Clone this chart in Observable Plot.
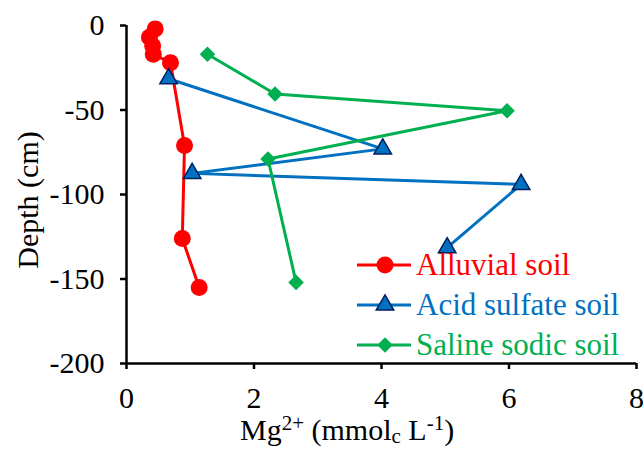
<!DOCTYPE html>
<html>
<head>
<meta charset="utf-8">
<script src="https://cdn.jsdelivr.net/npm/d3@7"></script>
<script src="https://cdn.jsdelivr.net/npm/@observablehq/plot@0.6"></script>
<style>
  html, body { margin: 0; padding: 0; background: #fff; }
  #wrap { position: relative; width: 643px; height: 450px; font-family: "Liberation Serif", "Times New Roman", serif; }
  #xtitle { position: absolute; left: 240px; top: 415px; font-size: 30px; color: #000; line-height: 1; white-space: nowrap; }
  #xtitle sup, #xtitle sub { font-size: 21px; vertical-align: baseline; position: relative; line-height: 1; }
  #xtitle sup { top: -0.5em; }
  #xtitle sub { top: 0.15em; }
  #ytitle { position: absolute; left: 28px; top: 200px; transform: translate(-50%, -50%) rotate(-90deg); font-size: 30px; white-space: nowrap; line-height: 1; }
  #legend { position: absolute; left: 0; top: 0; }
</style>
</head>
<body>
<div id="wrap"></div>
<script>
// Series data (Mg2+ in mmolc/L, depth in cm)
const alluvialX = [0.45, 0.36, 0.41, 0.42, 0.69, 0.91, 0.875, 1.14];
const alluvialY = [-2, -7, -12, -17, -22, -71, -126, -155];
const acidX = [0.66, 4.02, 1.03, 6.19, 5.03];
const acidY = [-31.5, -73, -87.5, -94, -131.5];
const salineX = [1.27, 2.33, 5.97, 2.22, 2.66];
const salineY = [-17, -40.5, -50.5, -79, -152];
const xTicks = [0, 2, 4, 6, 8];
const yTicks = [0, -50, -100, -150, -200];
const seriesNames = ["Alluvial soil", "Acid sulfate soil", "Saline sodic soil"];
const seriesColors = ["#FF0000", "#0070C0", "#00B050"];

const toRows = (xs, ys) => xs.map((x, i) => ({x, y: ys[i]}));
const alluvial = toRows(alluvialX, alluvialY);
const acid = toRows(acidX, acidY);
const saline = toRows(salineX, salineY);

const chart = Plot.plot({
  width: 643,
  height: 450,
  marginLeft: 126,
  marginRight: 7,
  marginTop: 25,
  marginBottom: 87,
  style: {fontFamily: "'Liberation Serif', 'Times New Roman', serif", fontSize: "30px", background: "#fff", overflow: "visible"},
  x: {domain: [0, 8]},
  y: {domain: [-200, 0]},
  marks: [
    Plot.axisX({ticks: xTicks, tickSize: 6, tickPadding: 17, tickFormat: d => String(d), fontSize: 30, strokeWidth: 2.5, label: null}),
    Plot.axisY({ticks: yTicks, tickSize: 6, tickPadding: 16, tickFormat: d => String(d), fontSize: 30, strokeWidth: 2.5, label: null}),
    Plot.ruleX([0], {stroke: "#000", strokeWidth: 2.5}),
    Plot.ruleY([-200], {stroke: "#000", strokeWidth: 2.5}),
    Plot.line(alluvial, {x: "x", y: "y", stroke: seriesColors[0], strokeWidth: 3}),
    Plot.dot(alluvial, {x: "x", y: "y", r: 8.5, fill: seriesColors[0], symbol: "circle"}),
    Plot.line(acid, {x: "x", y: "y", stroke: seriesColors[1], strokeWidth: 3}),
    Plot.dot(acid, {x: "x", y: "y", r: 6.5, fill: seriesColors[1], stroke: "#002060", strokeWidth: 1.5, symbol: "triangle"}),
    Plot.line(saline, {x: "x", y: "y", stroke: seriesColors[2], strokeWidth: 3}),
    Plot.dot(saline, {x: "x", y: "y", r: 7, fill: seriesColors[2], symbol: "diamond2"})
  ]
});

const wrap = document.getElementById("wrap");
wrap.appendChild(chart);

// Axis titles
const xt = document.createElement("div");
xt.id = "xtitle";
xt.innerHTML = "Mg<sup>2+</sup> (mmol<sub>c</sub> L<sup>-1</sup>)";
wrap.appendChild(xt);
const yt = document.createElement("div");
yt.id = "ytitle";
yt.textContent = "Depth (cm)";
wrap.appendChild(yt);

// Legend
const ns = "http://www.w3.org/2000/svg";
const leg = document.createElementNS(ns, "svg");
leg.setAttribute("id", "legend");
leg.setAttribute("width", 643);
leg.setAttribute("height", 450);
const rowY = [265, 305, 345];
const symbols = [d3.symbolCircle, d3.symbolTriangle, d3.symbolDiamond2];
const sizes = [Math.PI * 8.5 * 8.5, Math.PI * 6.5 * 6.5, Math.PI * 7 * 7];
seriesNames.forEach((name, i) => {
  const g = document.createElementNS(ns, "g");
  const line = document.createElementNS(ns, "line");
  line.setAttribute("x1", 357); line.setAttribute("x2", 411);
  line.setAttribute("y1", rowY[i]); line.setAttribute("y2", rowY[i]);
  line.setAttribute("stroke", seriesColors[i]); line.setAttribute("stroke-width", 3);
  g.appendChild(line);
  const p = document.createElementNS(ns, "path");
  p.setAttribute("d", d3.symbol(symbols[i], sizes[i])());
  p.setAttribute("transform", `translate(385,${rowY[i]})`);
  p.setAttribute("fill", seriesColors[i]);
  if (i === 1) { p.setAttribute("stroke", "#002060"); p.setAttribute("stroke-width", 1.5); }
  g.appendChild(p);
  const t = document.createElementNS(ns, "text");
  t.setAttribute("x", 416); t.setAttribute("y", rowY[i] + 10);
  t.setAttribute("fill", seriesColors[i]);
  t.setAttribute("font-family", "'Liberation Serif', 'Times New Roman', serif");
  t.setAttribute("font-size", 31);
  t.textContent = name;
  g.appendChild(t);
  leg.appendChild(g);
});
wrap.appendChild(leg);
</script>
</body>
</html>
